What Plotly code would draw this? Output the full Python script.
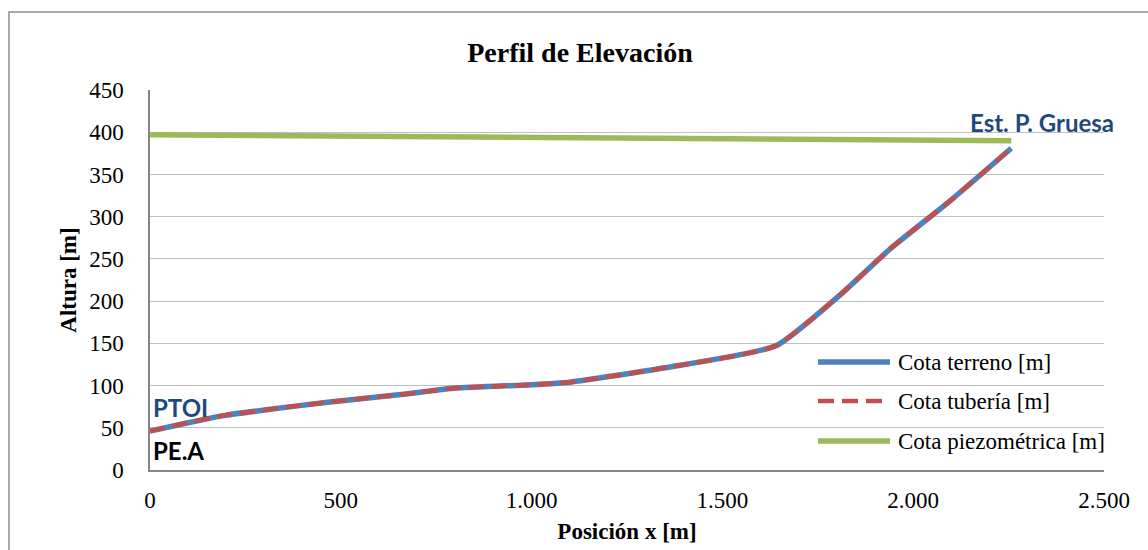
import plotly.graph_objects as go

# ---- data ----
pos_x = [0, 100, 200, 300, 460, 670, 800, 1000, 1100, 1350, 1640, 1810, 1940, 2100, 2257]
cota_terreno = [46, 56, 65, 71, 80, 90, 97, 101, 104, 121, 147, 208, 262, 320, 381]
cota_tuberia = [46, 56, 65, 71, 80, 90, 97, 101, 104, 121, 147, 208, 262, 320, 381]
piezo_x = [0, 2257]
cota_piezo = [397, 390]
series_names = ["Cota terreno [m]", "Cota tubería [m]", "Cota piezométrica [m]"]
x_ticks = [0, 500, 1000, 1500, 2000, 2500]
y_ticks = [0, 50, 100, 150, 200, 250, 300, 350, 400, 450]

W, H = 1148, 550
L, R, T, B = 150, 44, 90, 80
pw, ph = W - L - R, H - T - B


def px_x(px):
    return (px - L) / pw


def px_y(py):
    return (H - B - py) / ph


colors = ["#4F81BD", "#C0504D", "#9BBB59"]
serif = "Liberation Serif"
calibri = "Lato"

fig = go.Figure()
fig.add_trace(go.Scatter(x=pos_x, y=cota_terreno, mode="lines", name=series_names[0],
                         line=dict(color=colors[0], width=5.5, shape="spline", smoothing=0.5),
                         showlegend=False))
fig.add_trace(go.Scatter(x=pos_x, y=cota_tuberia, mode="lines", name=series_names[1],
                         line=dict(color=colors[1], width=4.5, dash="15px,8px", shape="spline", smoothing=0.5),
                         showlegend=False))
fig.add_trace(go.Scatter(x=piezo_x, y=cota_piezo, mode="lines", name=series_names[2],
                         line=dict(color=colors[2], width=5.5), showlegend=False))

shapes = [
    # outer chart border (partly outside the window)
    dict(type="rect", xref="paper", yref="paper", x0=px_x(9), x1=px_x(1165), y0=px_y(570), y1=px_y(12),
         line=dict(color="#8C8C8C", width=1.5), layer="below"),
]
annotations = []
# legend drawn manually
leg_y = [362, 401, 441]
dashes = ["solid", "dash", "solid"]
widths = [5.5, 4.5, 5.5]
for i, nm in enumerate(series_names):
    shapes.append(dict(type="line", xref="paper", yref="paper", x0=px_x(818), x1=px_x(890),
                       y0=px_y(leg_y[i]), y1=px_y(leg_y[i]),
                       line=dict(color=colors[i], width=widths[i],
                                 dash="16px,8px" if dashes[i] == "dash" else "solid")))
    annotations.append(dict(xref="paper", yref="paper", x=px_x(896), y=px_y(leg_y[i]),
                            xanchor="left", yanchor="middle", showarrow=False, text=nm,
                            font=dict(family=serif, size=23, color="#000000")))

annotations += [
    dict(x=2337, y=411, xref="x", yref="y", text="<b>Est. P. Gruesa</b>", showarrow=False,
         xanchor="center", yanchor="middle", font=dict(family=calibri, size=24, color="#1F497D")),
    dict(x=0, y=74, xref="x", yref="y", text="<b>PTOI</b>", showarrow=False, xshift=1,
         xanchor="left", yanchor="middle", font=dict(family=calibri, size=24, color="#1F497D")),
    dict(x=0, y=23, xref="x", yref="y", text="<b>PE.A</b>", showarrow=False, xshift=1,
         xanchor="left", yanchor="middle", font=dict(family=calibri, size=24, color="#000000")),
]

fig.update_layout(
    width=W, height=H,
    margin=dict(l=L, r=R, t=T, b=B, autoexpand=False),
    paper_bgcolor="white", plot_bgcolor="white",
    separators=",.",
    title=dict(text="Perfil de Elevación", x=580 / W, xref="container", xanchor="center",
               y=1 - 52 / H, yref="container", yanchor="middle",
               font=dict(family=serif, size=28, color="#000000", weight="bold")),
    xaxis=dict(range=[0, 2500], tickvals=x_ticks, tickformat=",d", showgrid=False, zeroline=False,
               showline=True, linecolor="#868686", linewidth=1.5, ticks="",
               ticklabelstandoff=9,
               tickfont=dict(family=serif, size=23, color="#000000"),
               title=dict(text="Posición x [m]", standoff=11,
                          font=dict(family=serif, size=23, color="#000000", weight="bold"))),
    yaxis=dict(range=[0, 450], tickvals=y_ticks, showgrid=True, gridcolor="#BFBFBF", gridwidth=1.3,
               zeroline=False, showline=True, linecolor="#868686", linewidth=1.5, ticks="",
               ticklabelstandoff=20,
               tickfont=dict(family=serif, size=23, color="#000000"),
               title=dict(text="Altura [m]", standoff=6,
                          font=dict(family=serif, size=23, color="#000000", weight="bold"))),
    shapes=shapes, annotations=annotations,
    showlegend=False,
)

fig.write_html("out.html")
